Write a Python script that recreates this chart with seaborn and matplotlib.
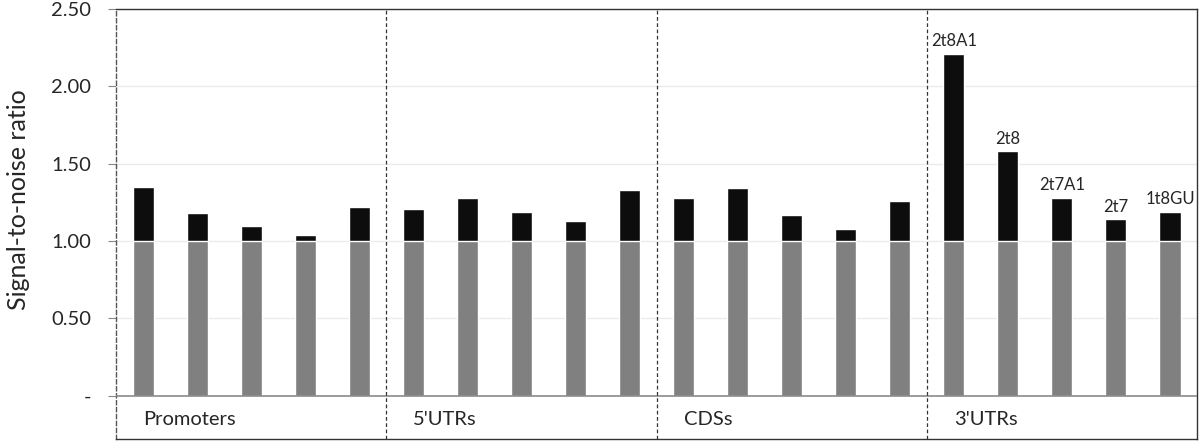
import numpy as np
import pandas as pd
import seaborn as sns
import matplotlib.pyplot as plt

# signal-to-noise ratios
regions = ["Promoters", "5'UTRs", "CDSs", "3'UTRs"]
promoters = [1.35, 1.18, 1.10, 1.04, 1.22]
utr5 = [1.21, 1.28, 1.19, 1.13, 1.33]
cds = [1.28, 1.34, 1.17, 1.08, 1.26]
utr3 = [2.21, 1.58, 1.28, 1.14, 1.19]
utr3_labels = ["2t8A1", "2t8", "2t7A1", "2t7", "1t8GU"]
noise = 1.0
yticks = [0, 0.5, 1.0, 1.5, 2.0, 2.5]

values = promoters + utr5 + cds + utr3
names = [f"{r}_{i}" for r in regions for i in range(5)]
df = pd.DataFrame({"name": names, "ratio": values, "noise": noise})

sns.set_style("white")
plt.rcParams["font.family"] = ["Lato", "DejaVu Sans"]

fig = plt.figure(figsize=(12, 4.41), dpi=100)
ax = fig.add_axes([0.0967, 0.0045, 0.9008, 0.9751])

sns.barplot(data=df, x="name", y="ratio", color="#0d0d0d", saturation=1,
            width=0.39, ax=ax, zorder=3)
sns.barplot(data=df, x="name", y="noise", color="#808080", saturation=1,
            width=0.39, ax=ax, zorder=4)

ax.set_xlim(-0.5, len(names) - 0.5)
ax.set_ylim(-0.28, 2.5)
ax.set_xticks([])
ax.set_xlabel("")
ax.set_yticks(yticks)
ax.set_yticklabels(["-" if t == 0 else f"{t:.2f}" for t in yticks], fontsize=14.5)
ax.tick_params(axis="y", length=6, width=0.8, color="#888888", pad=12, left=True)
ax.set_ylabel("Signal-to-noise ratio", fontsize=18)
ax.yaxis.set_label_coords(-0.08, 0.556)

for t in yticks[1:]:
    ax.axhline(t, color="#ebebeb", lw=1, zorder=1)
ax.axhline(0, color="#8a8a8a", lw=1.2, zorder=5)

for s in ax.spines.values():
    s.set_color("#333333")
    s.set_linewidth(1)
ax.spines["left"].set_linestyle((0, (3, 2)))
ax.spines["left"].set_color("#555555")

for k in range(1, len(regions)):
    ax.axvline(k * 5 - 0.5, color="#333333", lw=0.9, ls=(0, (3, 2)), zorder=6)

for k, r in enumerate(regions):
    ax.text(k * 5, -0.155, r, fontsize=14.5, ha="left", va="center")

for i, lab in enumerate(utr3_labels):
    ax.text(15 + i, utr3[i] + 0.03, lab, fontsize=12, ha="center", va="bottom")

fig.savefig("out.png", dpi=100)
